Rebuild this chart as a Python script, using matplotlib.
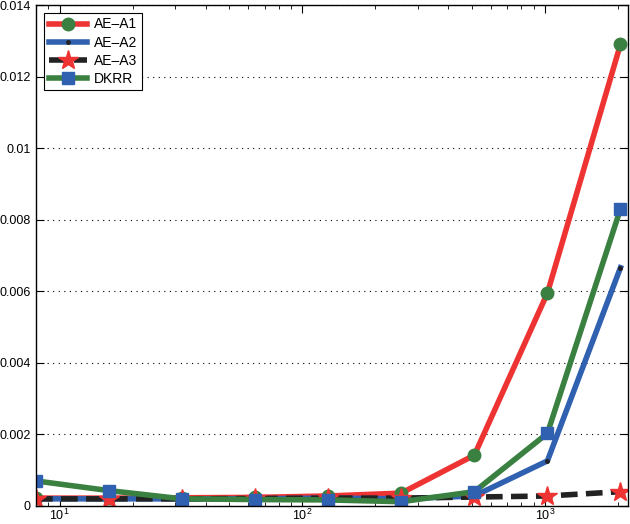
import numpy as np
import matplotlib
matplotlib.use('Agg')
import matplotlib.pyplot as plt

plt.rcParams['font.family'] = ['Liberation Sans', 'DejaVu Sans']
plt.rcParams['mathtext.fontset'] = 'custom'
plt.rcParams['mathtext.rm'] = 'Liberation Sans'

# data
n = [8, 16, 32, 64, 128, 256, 512, 1024, 2048]
ae_a1 = [0.00022, 0.00022, 0.00023, 0.00024, 0.00028, 0.00036, 0.00142, 0.00595, 0.0129]
ae_a2 = [0.0002, 0.0002, 0.0002, 0.0002, 0.00022, 0.0002, 0.00028, 0.00126, 0.00666]
ae_a3 = [0.0002, 0.0002, 0.0002, 0.00021, 0.00022, 0.00022, 0.00025, 0.00028, 0.0004]
dkrr = [0.0007, 0.00043, 0.0002, 0.00018, 0.00017, 0.00012, 0.0004, 0.00203, 0.0083]

fig = plt.figure(figsize=(6.3, 5.24), dpi=100)
ax = fig.add_axes([36/630, 18/524, 592/630, 501/524])

ax.plot(n, ae_a1, '-', color='#ee3333', lw=4, marker='o', ms=9,
        mfc='#3a8040', mec='#3a8040', label='AE\u2013A1')
ax.plot(n, ae_a2, '-', color='#3060b0', lw=4, marker='.', ms=5,
        mfc='#222222', mec='#222222', label='AE\u2013A2')
ax.plot(n, ae_a3, '--', color='#222222', lw=4, dashes=(3, 1.5), marker='*', ms=15,
        mfc='#ee3333', mec='#ee3333', label='AE\u2013A3')
ax.plot(n, dkrr, '-', color='#3a8040', lw=4, marker='s', ms=9,
        mfc='#3060b0', mec='#3060b0', label='DKRR')

ax.set_xscale('log')
ax.set_xlim(8, 2200)
ax.set_ylim(0, 0.014)
ax.set_yticks(np.arange(0, 0.0141, 0.002))
ax.set_yticklabels(['0', '0.002', '0.004', '0.006', '0.008', '0.01', '0.012', '0.014'])
ax.yaxis.grid(True, linestyle=(0, (1, 4)), color='black', lw=0.8)
ax.tick_params(which='both', direction='in', top=True, right=True, labelsize=9)
ax.tick_params(axis='y', pad=4)
ax.tick_params(axis='x', pad=1)
ax.tick_params(which='major', length=6)
ax.tick_params(which='minor', length=3)
for s in ax.spines.values():
    s.set_linewidth(1.0)

leg = ax.legend(loc='upper left', fontsize=10, fancybox=False, edgecolor='black',
                framealpha=1, borderpad=0.3, handlelength=2.8, handletextpad=0.5,
                labelspacing=0.3, borderaxespad=0.6)
leg.get_frame().set_linewidth(0.8)

fig.savefig('out.png', dpi=100)
